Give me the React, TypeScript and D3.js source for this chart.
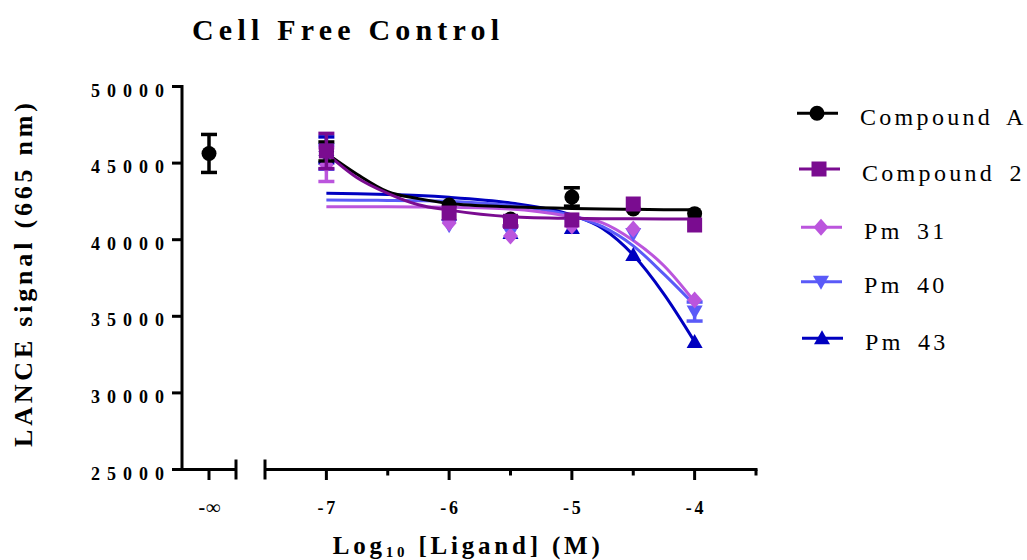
import React from "react";
import * as d3 from "d3";

// ---------- data ----------
const chartTitle = "Cell Free Control";
const yAxisTitle = "LANCE signal (665 nm)";
const yTicks = [25000, 30000, 35000, 40000, 45000, 50000];
const xTicks = [-7, -6, -5, -4];
const xMinorTicks = [-6.5, -5.5, -4.5, -3.5];
const zeroLabel = "-∞";
const logConc = [-7, -6, -5.5, -5, -4.5, -4];

const seriesNames = ["Compound A", "Compound 2", "Pm 31", "Pm 40", "Pm 43"];

// control (no ligand) point, Compound A only
const compoundAZero = 45630;
const compoundAZeroErr = 1240;

// mean values at logConc
const compoundA = [45760, 42260, 41350, 42790, 42000, 41700];
const compound2 = [45790, 41740, 41200, 41290, 42330, 40960];
const pm31 = [44900, 41090, 40240, 40900, 40700, 36060];
const pm40 = [45400, 40950, 40450, 41000, 40370, 35310];
const pm43 = [45860, 41650, 40430, 40760, 39000, 33320];

// error bars (SEM) at logConc
const compoundAErr = [620, 0, 0, 600, 0, 0];
const compound2Err = [1150, 0, 300, 0, 0, 0];
const pm31Err = [1100, 0, 0, 0, 0, 0];
const pm40Err = [800, 0, 0, 0, 0, 620];
const pm43Err = [850, 0, 0, 0, 0, 0];

// fitted curves
const fitX = [-7, -6.75, -6.5, -6.25, -6, -5.5, -5, -4.75, -4.5, -4.25, -4];
const compoundAFit = [45640, 44270, 43130, 42680, 42370, 42150, 42040, 42000, 41980, 41960, 41950];
const compound2Fit = [45640, 44050, 43030, 42280, 41930, 41500, 41390, 41370, 41360, 41350, 41350];
const pm31Fit = [42150, 42150, 42150, 42140, 42120, 42000, 41500, 41100, 39950, 38300, 35950];
const pm40Fit = [42590, 42580, 42560, 42540, 42500, 42240, 41570, 40850, 39600, 37750, 35740];
const pm43Fit = [43030, 43000, 42950, 42880, 42770, 42400, 41610, 40730, 39000, 36450, 33340];

// ---------- styles ----------
const colors = ["#000000", "#7A0C90", "#BB55DD", "#5A5AF8", "#0000C0"];
const shapes = ["circle", "square", "diamond", "triDown", "triUp"];
const FONT = "'Liberation Serif', 'Times New Roman', serif";

const W = 1027;
const H = 560;

const x = d3.scaleLinear().domain([-7.5, -3.5]).range([265, 756]);
const xZero = d3.scalePoint<string>().domain([zeroLabel]).range([182, 236]).padding(0.5);
const y = d3.scaleLinear().domain([25000, 50000]).range([469.5, 86.5]);

const AXIS_Y = y(25000);
const AXIS_X = 182;

function Marker({ shape, cx, cy, color }: { shape: string; cx: number; cy: number; color: string }) {
  if (shape === "circle") return <circle cx={cx} cy={cy} r={7.5} fill={color} />;
  if (shape === "square") return <rect x={cx - 7.5} y={cy - 7.5} width={15} height={15} fill={color} />;
  if (shape === "diamond")
    return <path d={`M${cx},${cy - 8.5}L${cx + 7.5},${cy}L${cx},${cy + 8.5}L${cx - 7.5},${cy}Z`} fill={color} />;
  if (shape === "triUp")
    return <path d={`M${cx},${cy - 8}L${cx + 8},${cy + 6}L${cx - 8},${cy + 6}Z`} fill={color} />;
  return <path d={`M${cx},${cy + 8}L${cx + 8},${cy - 6}L${cx - 8},${cy - 6}Z`} fill={color} />;
}

function ErrBar({ cx, v, e, color }: { cx: number; v: number; e: number; color: string }) {
  if (!e) return null;
  const y1 = y(v + e);
  const y2 = y(v - e);
  return (
    <g stroke={color} strokeWidth={3.5}>
      <line x1={cx} x2={cx} y1={y1} y2={y2} />
      <line x1={cx - 8} x2={cx + 8} y1={y1} y2={y1} />
      <line x1={cx - 8} x2={cx + 8} y1={y2} y2={y2} />
    </g>
  );
}

export default function App() {
  const means = [compoundA, compound2, pm31, pm40, pm43];
  const errs = [compoundAErr, compound2Err, pm31Err, pm40Err, pm43Err];
  const fits = [compoundAFit, compound2Fit, pm31Fit, pm40Fit, pm43Fit];
  const drawOrder = [4, 3, 2, 0, 1];

  const line = d3
    .line<number>()
    .x((_, i) => x(fitX[i]))
    .y((d) => y(d))
    .curve(d3.curveMonotoneX);

  const legendY = [113.3, 169, 227.3, 281.7, 338.3];
  const legendShift = [0, 2, 4, 4, 5];

  const tickSpacing = 7;
  const xLabSpacing = 3;

  return (
    <div style={{ position: "fixed", left: 0, top: 0 }}>
      <svg width={W} height={H} style={{ display: "block", background: "#fff" }} fontFamily={FONT}>
        {/* title */}
        <text x={192} y={40} fontSize={30} fontWeight="bold" style={{ letterSpacing: "5.2px" }}>
          {chartTitle}
        </text>

        {/* y axis */}
        <g stroke="#000" strokeWidth={3}>
          <line x1={AXIS_X} x2={AXIS_X} y1={y(50000) - 1.5} y2={AXIS_Y + 1.5} />
          {yTicks.map((t) => (
            <line key={t} x1={AXIS_X - 10} x2={AXIS_X} y1={y(t)} y2={y(t)} />
          ))}
        </g>
        {yTicks.map((t) => (
          <text
            key={t}
            x={164 + tickSpacing}
            y={y(t) + 10}
            textAnchor="end"
            fontSize={18}
            fontWeight="bold"
            style={{ letterSpacing: `${tickSpacing}px` }}
          >
            {t}
          </text>
        ))}
        <text
          transform={`translate(32, 275) rotate(-90)`}
          textAnchor="middle"
          fontSize={26}
          fontWeight="bold"
          dx={1.9}
          style={{ letterSpacing: "3.8px" }}
        >
          {yAxisTitle}
        </text>

        {/* x axis: left (control) segment */}
        <g stroke="#000" strokeWidth={3}>
          <line x1={AXIS_X} x2={236} y1={AXIS_Y} y2={AXIS_Y} />
          <line x1={xZero(zeroLabel)!} x2={xZero(zeroLabel)!} y1={AXIS_Y} y2={AXIS_Y + 10.5} />
          <line x1={236} x2={236} y1={AXIS_Y - 10} y2={AXIS_Y + 10} />
          {/* right segment */}
          <line x1={x(-7.5)} x2={x(-3.5) + 1.5} y1={AXIS_Y} y2={AXIS_Y} />
          <line x1={x(-7.5)} x2={x(-7.5)} y1={AXIS_Y - 10} y2={AXIS_Y + 10} />
          {xTicks.map((t) => (
            <line key={t} x1={x(t)} x2={x(t)} y1={AXIS_Y} y2={AXIS_Y + 10.5} />
          ))}
          {xMinorTicks.map((t) => (
            <line key={t} x1={x(t)} x2={x(t)} y1={AXIS_Y} y2={AXIS_Y + 6} />
          ))}
        </g>
        <text
          x={xZero(zeroLabel)!}
          y={514}
          textAnchor="middle"
          fontSize={20}
          fontWeight="bold"
          dx={1}
          style={{ letterSpacing: "1px" }}
        >
          {zeroLabel}
        </text>
        {xTicks.map((t) => (
          <text
            key={t}
            x={x(t)}
            y={514}
            textAnchor="middle"
            fontSize={18}
            fontWeight="bold"
            dx={xLabSpacing / 2}
            style={{ letterSpacing: `${xLabSpacing}px` }}
          >
            {String(t)}
          </text>
        ))}
        <text x={332.7} y={554} fontSize={25} fontWeight="bold" style={{ letterSpacing: "3.8px" }}>
          <tspan>Log</tspan>
          <tspan fontSize={15} dy={3}>
            10
          </tspan>
          <tspan dy={-3}> [Ligand] (M)</tspan>
        </text>

        {/* fitted curves */}
        {drawOrder.map((s) => (
          <path key={"c" + s} d={line(fits[s]) || ""} fill="none" stroke={colors[s]} strokeWidth={3} />
        ))}

        {/* points */}
        {drawOrder.map((s) => (
          <g key={"p" + s}>
            {means[s].map((v, i) => (
              <ErrBar key={"e" + i} cx={x(logConc[i])} v={v} e={errs[s][i]} color={colors[s]} />
            ))}
            {means[s].map((v, i) => (
              <Marker key={"m" + i} shape={shapes[s]} cx={x(logConc[i])} cy={y(v)} color={colors[s]} />
            ))}
          </g>
        ))}
        {/* control point (Compound A) */}
        <ErrBar cx={xZero(zeroLabel)!} v={compoundAZero} e={compoundAZeroErr} color={colors[0]} />
        <Marker shape={shapes[0]} cx={xZero(zeroLabel)!} cy={y(compoundAZero)} color={colors[0]} />

        {/* legend */}
        {seriesNames.map((name, i) => {
          const ly = legendY[i];
          const lx = 797 + legendShift[i];
          return (
            <g key={name}>
              <line x1={lx} x2={lx + 41} y1={ly} y2={ly} stroke={colors[i]} strokeWidth={3} />
              <Marker shape={shapes[i]} cx={lx + 20} cy={ly} color={colors[i]} />
              <text
                x={860 + legendShift[i]}
                y={ly + 11.5}
                fontSize={24}
                style={{ letterSpacing: "3.3px", wordSpacing: "5px" }}
              >
                {name}
              </text>
            </g>
          );
        })}
      </svg>
    </div>
  );
}
